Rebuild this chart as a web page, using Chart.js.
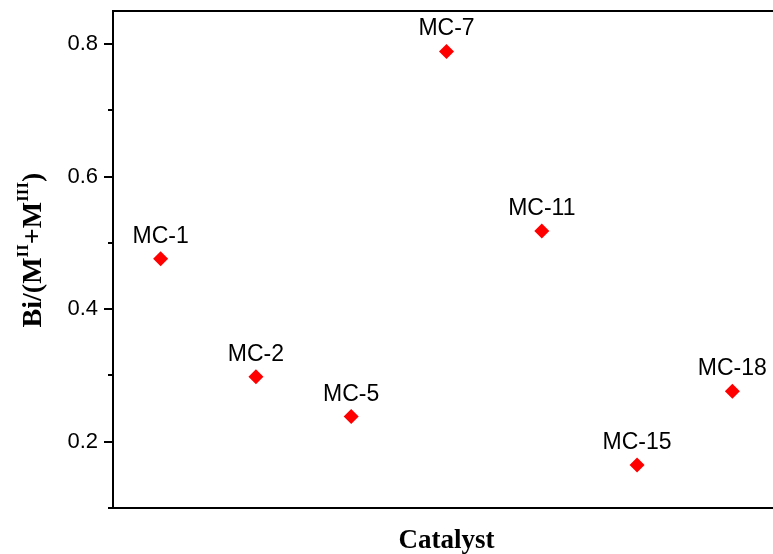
<!DOCTYPE html>
<html>
<head>
<meta charset="utf-8">
<script src="https://cdn.jsdelivr.net/npm/chart.js@4.4.1/dist/chart.umd.min.js"></script>
<style>
  html, body { margin: 0; padding: 0; background: #fff; overflow: hidden; }
  #wrap { width: 780px; height: 554px; }
</style>
</head>
<body>
<div id="wrap"><canvas id="chart" width="780" height="554"></canvas></div>
<script>
// Datos
const catalysts = ['MC-1', 'MC-2', 'MC-5', 'MC-7', 'MC-11', 'MC-15', 'MC-18'];
const biRatio = [0.476, 0.298, 0.238, 0.789, 0.518, 0.165, 0.276];
const yMajorTicks = [0.2, 0.4, 0.6, 0.8];
const yAllTicks = [0.1, 0.2, 0.3, 0.4, 0.5, 0.6, 0.7, 0.8];

const sansFont = "'Liberation Sans', Arial, sans-serif";
const serifFont = "'Liberation Serif', 'Times New Roman', serif";

const isMajor = v => yMajorTicks.some(m => Math.abs(m - v) < 1e-6);

// Marcas del eje Y, borde superior, etiquetas de puntos y títulos
const decorPlugin = {
    id: 'decor',
    afterDraw(chart) {
        const { ctx, chartArea } = chart;
        const yScale = chart.scales.y;
        ctx.save();

        // marcas mayores y menores hacia fuera
        ctx.strokeStyle = '#000';
        ctx.lineWidth = 2;
        yScale.ticks.forEach(t => {
            const y = Math.round(yScale.getPixelForValue(t.value));
            const len = isMajor(t.value) ? 9 : 5;
            ctx.beginPath();
            ctx.moveTo(chartArea.left - len, y);
            ctx.lineTo(chartArea.left, y);
            ctx.stroke();
        });

        // borde superior
        ctx.beginPath();
        ctx.moveTo(chartArea.left - 1, chartArea.top);
        ctx.lineTo(chartArea.right, chartArea.top);
        ctx.stroke();

        // etiquetas encima de cada punto
        const meta = chart.getDatasetMeta(0);
        ctx.fillStyle = '#000';
        ctx.font = "23px " + sansFont;
        ctx.textAlign = 'center';
        ctx.textBaseline = 'alphabetic';
        meta.data.forEach((pt, i) => {
            ctx.fillText(catalysts[i], pt.x, pt.y - 16);
        });

        // título del eje X
        ctx.font = "bold 27px " + serifFont;
        ctx.fillText('Catalyst', (chartArea.left + chartArea.right) / 2, 548);

        // título del eje Y con superíndices
        const parts = [
            { t: 'Bi/(M', sup: false },
            { t: 'II', sup: true },
            { t: '+M', sup: false },
            { t: 'III', sup: true },
            { t: ')', sup: false }
        ];
        const mainF = "bold 28px " + serifFont;
        const supF = "bold 17px " + serifFont;
        let total = 0;
        parts.forEach(p => {
            ctx.font = p.sup ? supF : mainF;
            p.w = ctx.measureText(p.t).width;
            total += p.w;
        });
        ctx.translate(41, 250);
        ctx.rotate(-Math.PI / 2);
        ctx.textAlign = 'left';
        let x = -total / 2;
        parts.forEach(p => {
            ctx.font = p.sup ? supF : mainF;
            ctx.fillText(p.t, x, p.sup ? -13 : 0);
            x += p.w;
        });

        ctx.restore();
    }
};

new Chart(document.getElementById('chart'), {
    type: 'scatter',
    data: {
        labels: catalysts,
        datasets: [{
            data: biRatio,
            pointStyle: 'rectRot',
            pointRadius: 7.5,
            pointBackgroundColor: '#ff0000',
            pointBorderColor: '#ff0000',
            pointBorderWidth: 0,
            showLine: false
        }]
    },
    plugins: [decorPlugin],
    options: {
        responsive: false,
        animation: false,
        devicePixelRatio: 1,
        layout: { autoPadding: false, padding: { top: 11, left: 0, right: 0, bottom: 0 } },
        plugins: {
            legend: { display: false },
            tooltip: { enabled: false }
        },
        scales: {
            x: {
                type: 'category',
                offset: true,
                grid: { display: false },
                border: { display: true, color: '#000', width: 2 },
                ticks: { display: false },
                afterFit(scale) { scale.height = 46; }
            },
            y: {
                min: 0.1,
                max: 0.85,
                grid: { display: false },
                border: { display: true, color: '#000', width: 2 },
                afterBuildTicks(scale) {
                    scale.ticks = yAllTicks.map(v => ({ value: v }));
                },
                ticks: {
                    padding: 7,
                    color: '#000',
                    font: { family: sansFont, size: 22 },
                    callback(value) {
                        return isMajor(value) ? value.toFixed(1) : '';
                    }
                },
                afterFit(scale) {
                    scale.width = 113;
                    scale.paddingTop = 0;
                    scale.paddingBottom = 0;
                }
            }
        }
    }
});
</script>
</body>
</html>
